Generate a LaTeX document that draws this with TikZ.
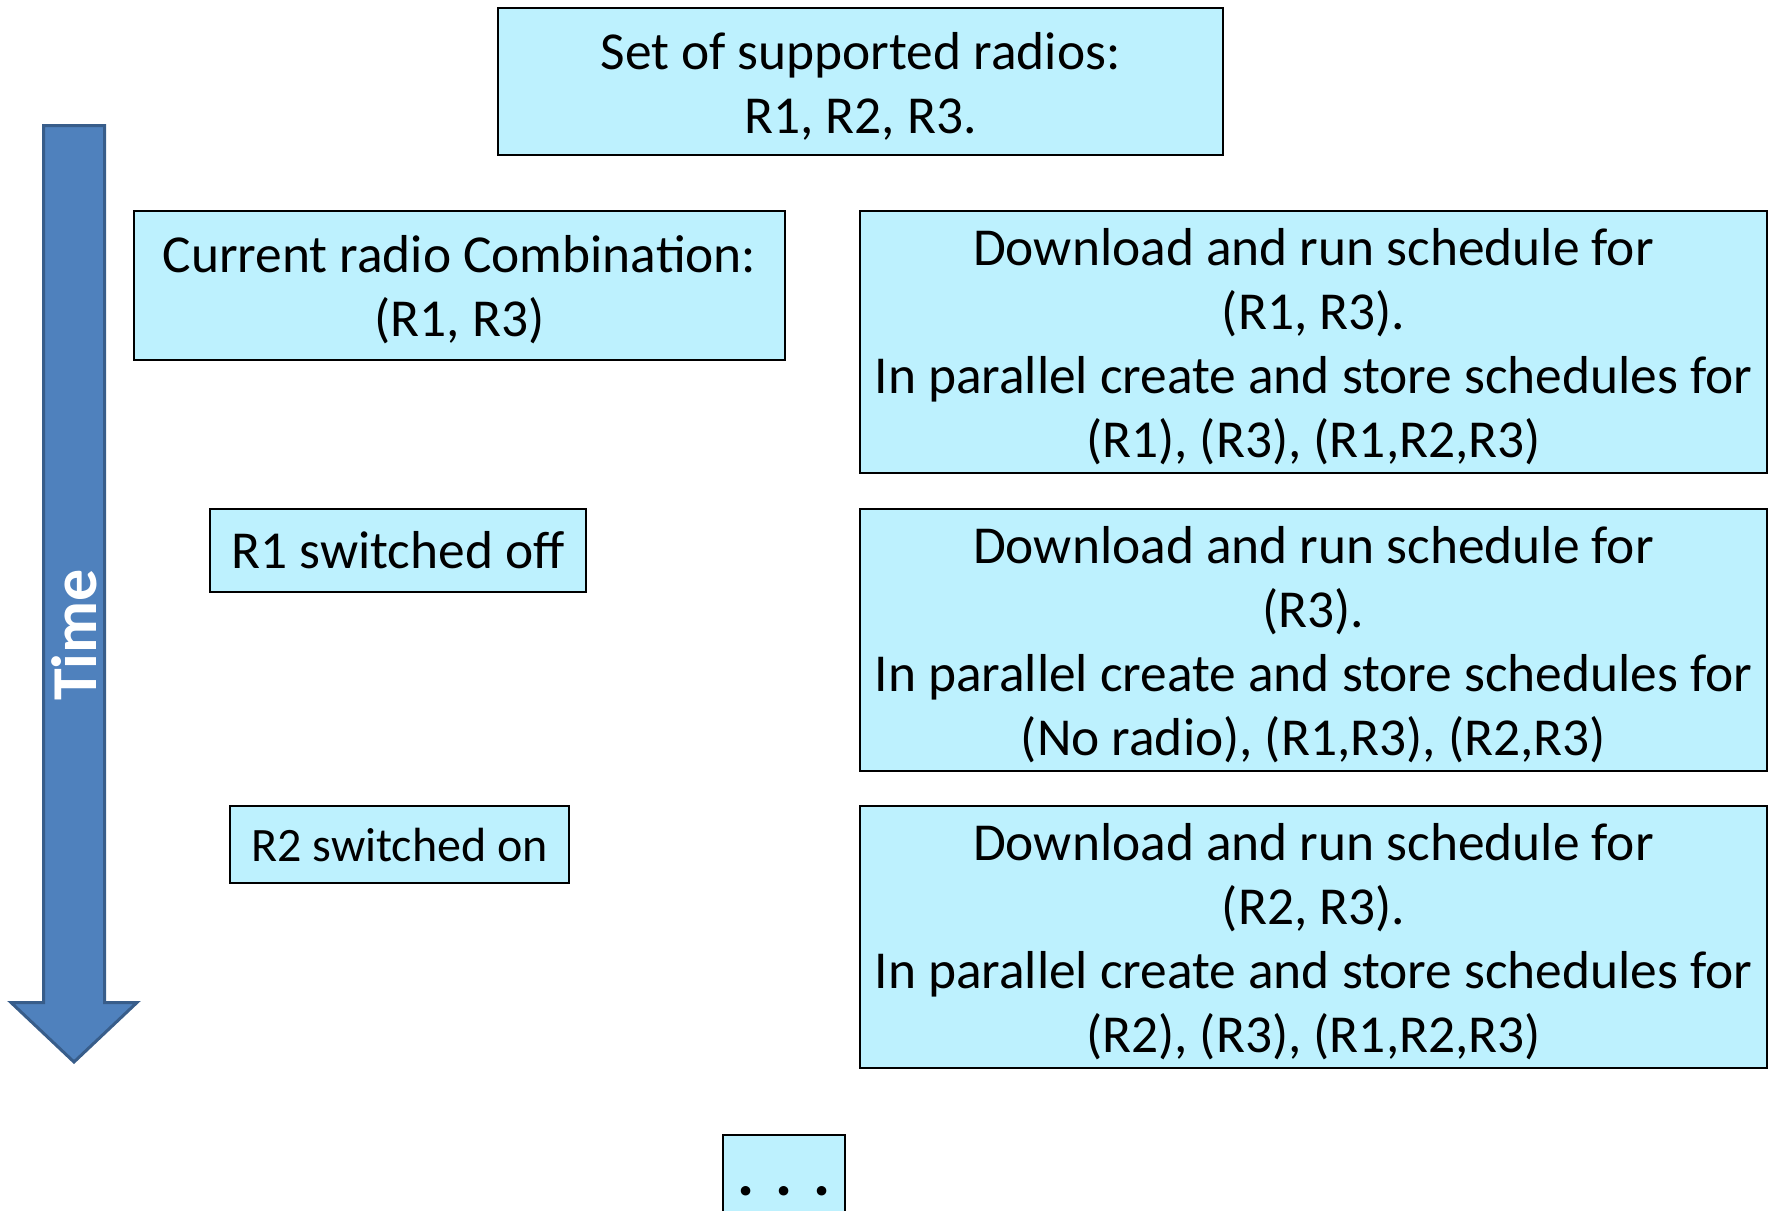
\documentclass[tikz,border=0pt]{standalone}
\usepackage{fontspec}
\setmainfont{Carlito}
\definecolor{boxfill}{RGB}{189,241,254}
\definecolor{arrowfill}{RGB}{79,129,189}
\definecolor{arrowdraw}{RGB}{56,93,138}
\newcommand{\firststrut}{\rule{0pt}{23pt}}
\begin{document}
\begin{tikzpicture}[x=0.5pt,y=-0.5pt,
  box/.style={draw=black, line width=1pt, fill=boxfill, align=center, inner sep=0pt,
    font=\fontsize{26.7pt}{32pt}\selectfont},
  timearrow/.style={fill=arrowfill, draw=arrowdraw, line width=1.5pt, line join=miter}]
\useasboundingbox (0,0) rectangle (1770,1210);
% time arrow
\draw[timearrow] (43.5,125.5) -- (104.5,125.5) -- (104.5,1002.5) -- (137,1002.5)
  -- (74,1062) -- (11,1002.5) -- (43.5,1002.5) -- cycle;
\node[rotate=90, text=white, font=\fontsize{32pt}{38pt}\selectfont\bfseries] (time) at (74,635) {Time};
% boxes
\node[box, minimum width=362.5pt, minimum height=73.5pt] (top) at (860.5,81.5)
  {\firststrut Set of supported radios:\\ R1, R2, R3.};
\node[box, minimum width=325.5pt, minimum height=74.5pt] (cur) at (459.5,285.5)
  {\firststrut Current radio Combination:\\ (R1, R3)};
\node[box, minimum width=188pt, minimum height=41.5pt] (off) at (398,550.5)
  {R1 switched off};
\node[box, minimum width=169.5pt, minimum height=38.5pt, font=\fontsize{24pt}{30pt}\selectfont] (on) at (399.5,844.5)
  {R2 switched on};
\node[box, minimum width=453.5pt, minimum height=131pt] (s1) at (1313.5,342)
  {\firststrut Download and run schedule for\\ (R1, R3).\\ In parallel create and store schedules for\\ (R1), (R3), (R1,R2,R3)};
\node[box, minimum width=453.5pt, minimum height=131pt] (s2) at (1313.5,640)
  {\firststrut Download and run schedule for\\ (R3).\\ In parallel create and store schedules for\\ (No radio), (R1,R3), (R2,R3)};
\node[box, minimum width=453.5pt, minimum height=131pt] (s3) at (1313.5,937)
  {\firststrut Download and run schedule for\\ (R2, R3).\\ In parallel create and store schedules for\\ (R2), (R3), (R1,R2,R3)};
\node[box, minimum width=61pt, minimum height=56pt,
  font=\fontsize{32pt}{38pt}\selectfont\bfseries] (dots) at (784,1191)
  {.\,\,.\,\,.};
\end{tikzpicture}
\end{document}
